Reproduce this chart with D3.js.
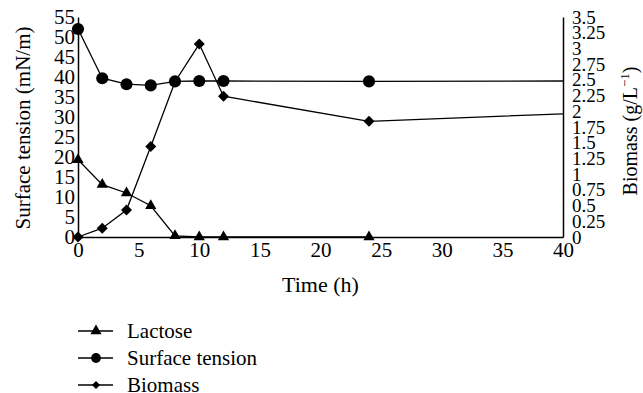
<!DOCTYPE html>
<html>
<head>
<meta charset="utf-8">
<script src="https://cdn.jsdelivr.net/npm/d3@7"></script>
<style>
  body { margin: 0; background: #fff; }
  svg text { font-family: "Liberation Serif", "DejaVu Serif", serif; fill: #000; }
</style>
</head>
<body>
<div id="chart"></div>
<script>
// data
const time = [0, 2, 4, 6, 8, 10, 12, 24, 40];
const lactose = [19.3, 13.1, 11, 7.8, 0.3, 0, 0, 0, null];
const surfaceTension = [52, 39.7, 38.2, 37.9, 38.9, 39, 39, 38.9, 39];
const biomass = [0, 0.14, 0.43, 1.44, 2.47, 3.07, 2.24, 1.84, 1.96];
// last point (t = 40) has no marker, line only
const markerCount = 8;

const xTicks = [0, 5, 10, 15, 20, 25, 30, 35, 40];
const leftTicks = [0, 5, 10, 15, 20, 25, 30, 35, 40, 45, 50, 55];
const rightTicks = [0, 0.25, 0.5, 0.75, 1, 1.25, 1.5, 1.75, 2, 2.25, 2.5, 2.75, 3, 3.25, 3.5];

const W = 643, H = 393;
const margin = {top: 17, right: 80, bottom: 156, left: 78};
const width = W - margin.left - margin.right;
const height = H - margin.top - margin.bottom;

const svg = d3.select("#chart").append("svg")
  .attr("width", W).attr("height", H);
const g = svg.append("g")
  .attr("transform", "translate(" + margin.left + "," + margin.top + ")");

const x = d3.scaleLinear().domain([0, 40]).range([0, width]);
const yL = d3.scaleLinear().domain([0, 55]).range([height, 0]);
const yR = d3.scaleLinear().domain([0, 3.5]).range([height, 0]);

// axes (no tick marks in the original)
const xAxis = d3.axisBottom(x).tickValues(xTicks).tickSize(0).tickPadding(5).tickFormat(d3.format("d"));
const lAxis = d3.axisLeft(yL).tickValues(leftTicks).tickSize(0).tickPadding(3);
const rAxis = d3.axisRight(yR).tickValues(rightTicks).tickSize(0).tickPadding(9).tickFormat(d => String(d));

function style(sel) {
  sel.attr("font-family", null);
  sel.select(".domain").attr("stroke", "#000").attr("stroke-width", 1.5);
  sel.selectAll("text").attr("font-size", 21);
}
g.append("g").attr("transform", "translate(0," + height + ")").call(xAxis).call(style);
g.append("g").call(lAxis).call(style);
g.append("g").attr("transform", "translate(" + width + ",0)").call(rAxis).call(style)
  .selectAll("text").attr("font-size", 19);

// axis titles
g.append("text").attr("x", width / 2).attr("y", height + 55)
  .attr("text-anchor", "middle").attr("font-size", 22).text("Time (h)");
g.append("text").attr("transform", "translate(-48," + (height / 2 + 1) + ") rotate(-90)")
  .attr("text-anchor", "middle").attr("font-size", 21).text("Surface tension (mN/m)");
const rt = g.append("text").attr("transform", "translate(" + (width + 74) + "," + (height / 2 + 4) + ") rotate(-90)")
  .attr("text-anchor", "middle").attr("font-size", 20);
rt.append("tspan").text("Biomass (g/L");
rt.append("tspan").attr("font-size", 13).attr("dy", -8).text("\u22121");
rt.append("tspan").attr("dy", 8).text(")");

// series
const pts = (vals) => time.map((t, i) => ({t, v: vals[i]})).filter(d => d.v != null);
const line = scale => d3.line().x(d => x(d.t)).y(d => scale(d.v));

const series = [
  {name: "Lactose", data: pts(lactose), scale: yL, shape: d3.symbolTriangle, size: 55, lsize: 55},
  {name: "Surface tension", data: pts(surfaceTension), scale: yL, shape: d3.symbolCircle, size: 115, lsize: 75},
  {name: "Biomass", data: pts(biomass), scale: yR, shape: d3.symbolDiamond2, size: 77, lsize: 42}
];

series.forEach(s => {
  g.append("path").datum(s.data)
    .attr("fill", "none").attr("stroke", "#000").attr("stroke-width", 1.3)
    .attr("d", line(s.scale));
  g.selectAll(null).data(s.data.filter(d => time.indexOf(d.t) < markerCount))
    .enter().append("path")
    .attr("transform", d => "translate(" + x(d.t) + "," + s.scale(d.v) + ")")
    .attr("d", d3.symbol().type(s.shape).size(s.size))
    .attr("fill", "#000");
});

// legend
const leg = svg.append("g").attr("transform", "translate(78,331)");
series.forEach((s, i) => {
  const row = leg.append("g").attr("transform", "translate(0," + (i * 27) + ")");
  row.append("line").attr("x1", 0).attr("x2", 35).attr("stroke", "#000").attr("stroke-width", 1.3);
  row.append("path").attr("transform", "translate(18,0)")
    .attr("d", d3.symbol().type(s.shape).size(s.lsize)).attr("fill", "#000");
  row.append("text").attr("x", 49).attr("y", 6.5).attr("font-size", 21).text(s.name);
});
</script>
</body>
</html>
